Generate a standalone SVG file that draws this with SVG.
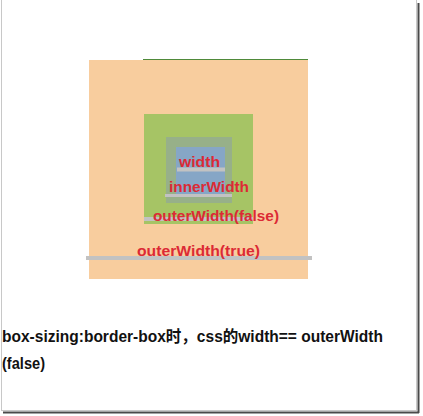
<svg xmlns="http://www.w3.org/2000/svg" width="423" height="416" viewBox="0 0 423 416">
<style>
.lbl{font-family:"Liberation Sans","Noto Sans",Arial,sans-serif;font-weight:bold;font-size:15px;fill:#dc2a35}
.cap{font-family:"Liberation Sans","Noto Sans CJK SC",sans-serif;font-weight:bold;font-size:16px;fill:#111}
.bar{stroke:#c2c2c2;stroke-linecap:butt}
</style>
<rect x="0" y="0" width="423" height="416" fill="#ffffff"/>
<g id="frame">
<rect x="1.5" y="-1" width="415" height="411.5" fill="#fff" stroke="#c8c8c8" stroke-width="1"/>
<line x1="418.5" y1="3" x2="418.5" y2="413" stroke="#4a4a4a" stroke-width="2"/>
<line x1="3" y1="412.5" x2="419" y2="412.5" stroke="#4a4a4a" stroke-width="2"/>
</g>
<g id="outer-box">
<rect x="89" y="60" width="219" height="219" fill="#f8cd9e"/>
<line x1="143" y1="59.5" x2="308" y2="59.5" stroke="#4f8a3a" stroke-width="1.2"/>
</g>
<g id="margin-box">
<rect x="144" y="114" width="109" height="110" fill="#a6c465"/>
</g>
<g id="border-box">
<rect x="166" y="137" width="66" height="66" fill="#97b089"/>
</g>
<g id="content-box">
<rect x="176" y="147" width="49" height="49" fill="#86a6c6"/>
</g>
<g id="connectors">
<line class="bar" x1="177" y1="169.5" x2="225" y2="169.5" stroke-width="4"/>
<line class="bar" x1="165" y1="195.5" x2="232" y2="195.5" stroke-width="3"/>
<line class="bar" x1="144" y1="219" x2="253" y2="219" stroke-width="4"/>
<line class="bar" x1="86" y1="258" x2="312" y2="258" stroke-width="4"/>
</g>
<g id="labels">
<text class="lbl" x="179" y="167" textLength="41" lengthAdjust="spacingAndGlyphs">width</text>
<text class="lbl" x="169" y="192" textLength="80" lengthAdjust="spacingAndGlyphs">innerWidth</text>
<text class="lbl" x="153" y="221" textLength="126" lengthAdjust="spacingAndGlyphs">outerWidth(false)</text>
<text class="lbl" x="137" y="256" textLength="123" lengthAdjust="spacingAndGlyphs">outerWidth(true)</text>
</g>
<g id="caption">
<text class="cap" x="2" y="342" textLength="381" lengthAdjust="spacingAndGlyphs">box-sizing:border-box时，css的width== outerWidth</text>
<text class="cap" x="2" y="369" textLength="43" lengthAdjust="spacingAndGlyphs">(false)</text>
</g>
</svg>
